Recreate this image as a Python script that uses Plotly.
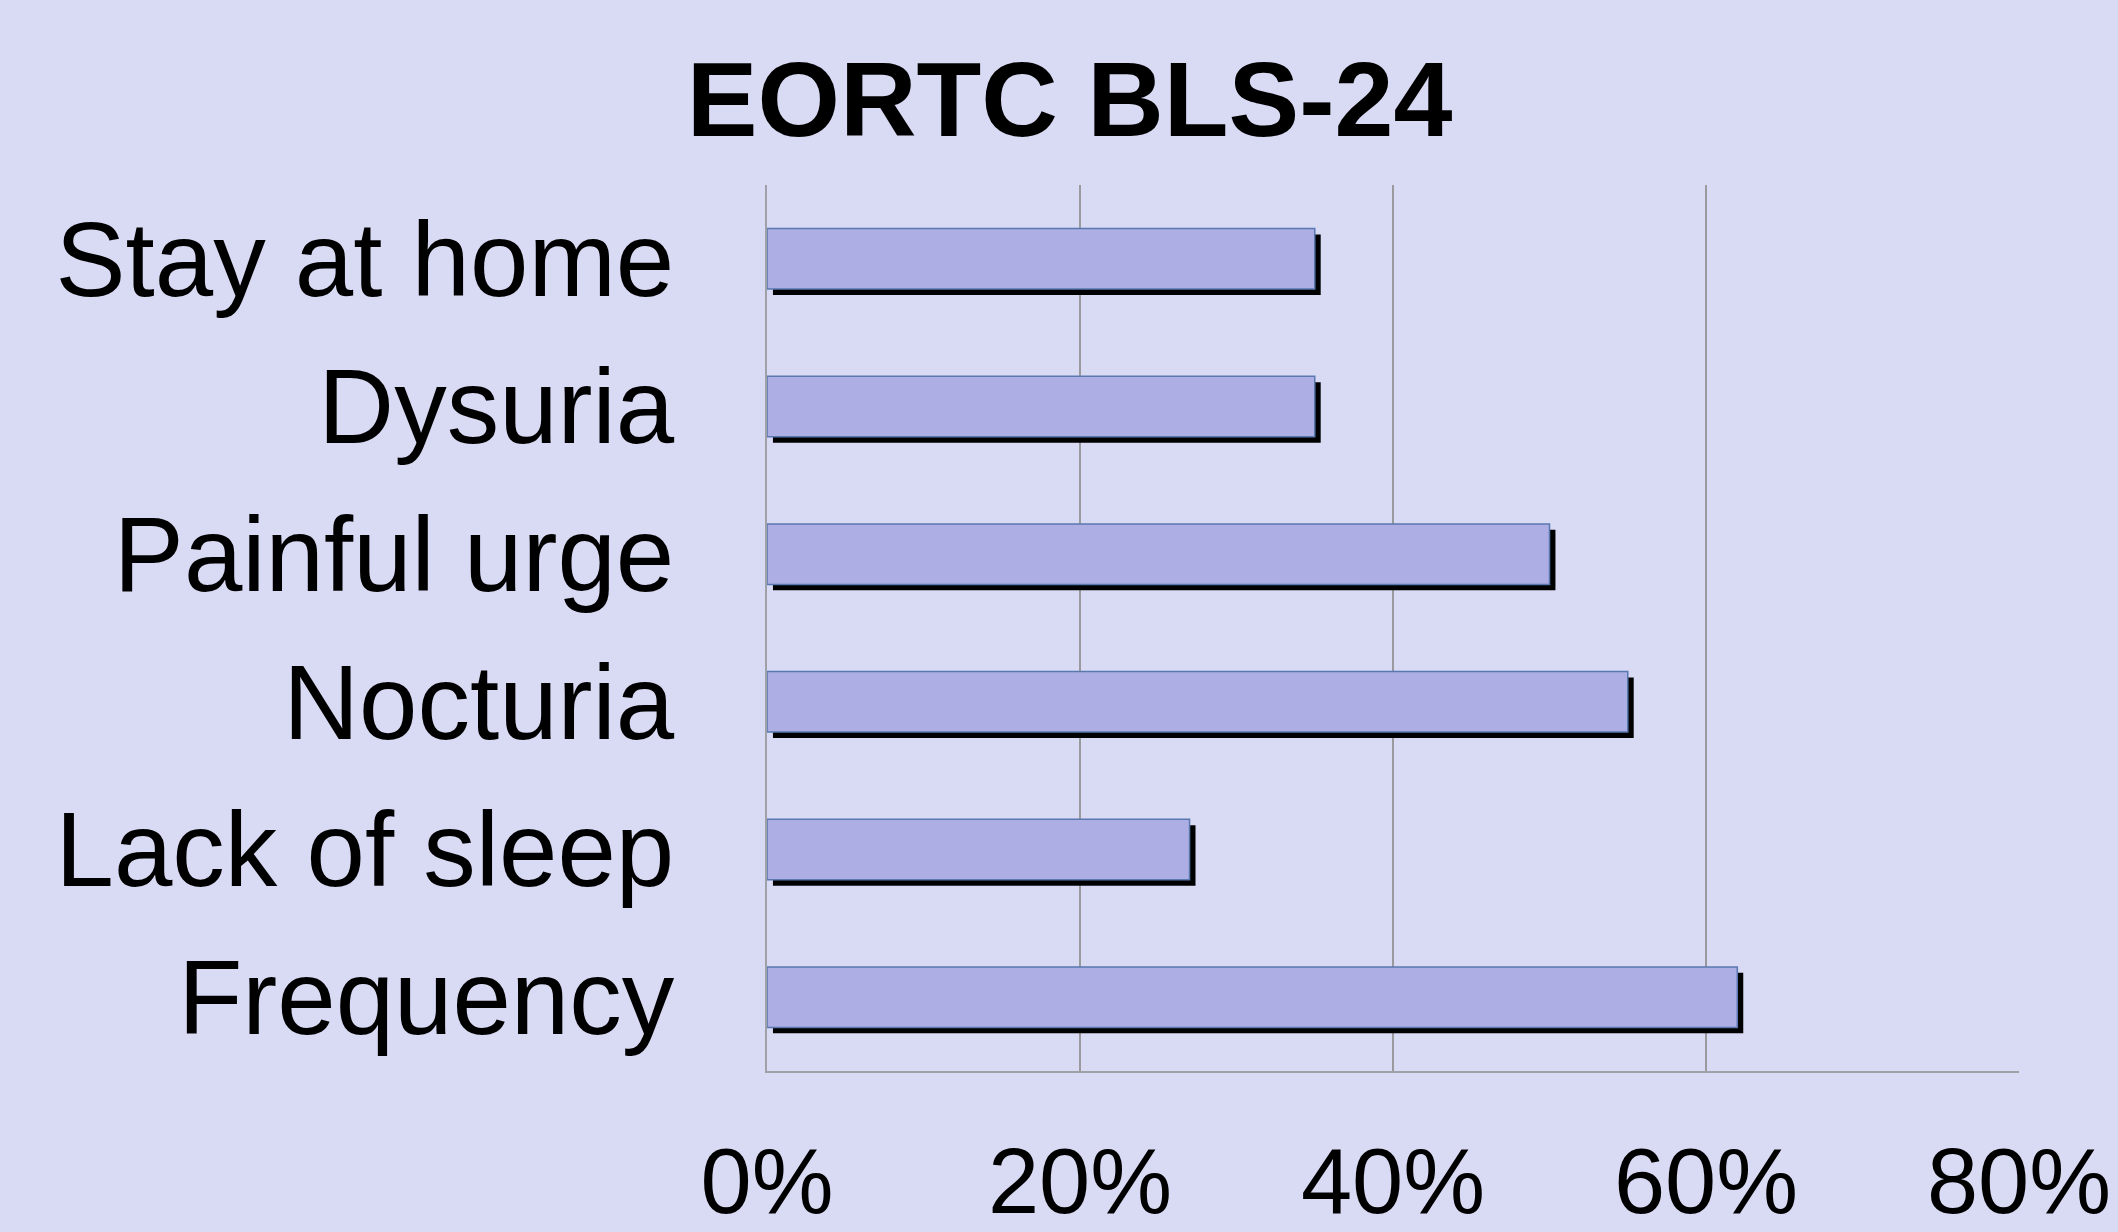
import plotly.graph_objects as go

categories = ["Frequency", "Lack of sleep", "Nocturia", "Painful urge", "Dysuria", "Stay at home"]
values = [62, 27, 55, 50, 35, 35]
tick_values = [0, 20, 40, 60, 80]
tick_labels = ["0%", "20%", "40%", "60%", "80%"]

BG = "#D9DAF4"
BAR = "#ADAEE3"
FONT = "Liberation Sans, Arial, sans-serif"
W = 0.41

fig = go.Figure()
# shadow
fig.add_trace(go.Bar(
    y=categories, x=values, base=0.38, orientation="h",
    width=W, offset=-W / 2 - 0.04,
    marker=dict(color="#000000", line=dict(width=0)),
    hoverinfo="skip", showlegend=False,
))
# bars
fig.add_trace(go.Bar(
    y=categories, x=values, orientation="h",
    width=W, offset=-W / 2,
    marker=dict(color=BAR, line=dict(color="#5A78B0", width=1.5)),
    showlegend=False,
))

fig.update_layout(
    width=2118, height=1232,
    paper_bgcolor=BG, plot_bgcolor=BG,
    barmode="overlay",
    margin=dict(l=767, r=99, t=185, b=161, autoexpand=False),
    font=dict(family=FONT, color="#000000"),
    title=dict(text="<b>EORTC BLS-24</b>", x=0.505, xanchor="center",
               y=1 - 99 / 1232, yanchor="middle",
               font=dict(size=106, family=FONT, color="#000000")),
    xaxis=dict(
        range=[0, 80], tickvals=tick_values, ticktext=tick_labels,
        showgrid=True, gridcolor="#9A9A9E", gridwidth=1.5,
        showline=True, linecolor="#A0A0A8", linewidth=2, mirror=False,
        zeroline=False, automargin=False,
        ticks="outside", ticklen=30, tickcolor="rgba(0,0,0,0)",
        tickfont=dict(size=92, family=FONT, color="#000000"),
    ),
    yaxis=dict(
        range=[-0.5, 5.5], type="category",
        showgrid=False, showline=True, linecolor="#A0A0A8", linewidth=1.5,
        zeroline=False, automargin=False,
        ticks="outside", ticklen=70, tickcolor="rgba(0,0,0,0)",
        tickfont=dict(size=105, family=FONT, color="#000000"),
    ),
)

fig.write_html("out.html", config={"displayModeBar": False},
               post_script="document.body.style.margin='0';document.body.style.overflow='hidden';")
